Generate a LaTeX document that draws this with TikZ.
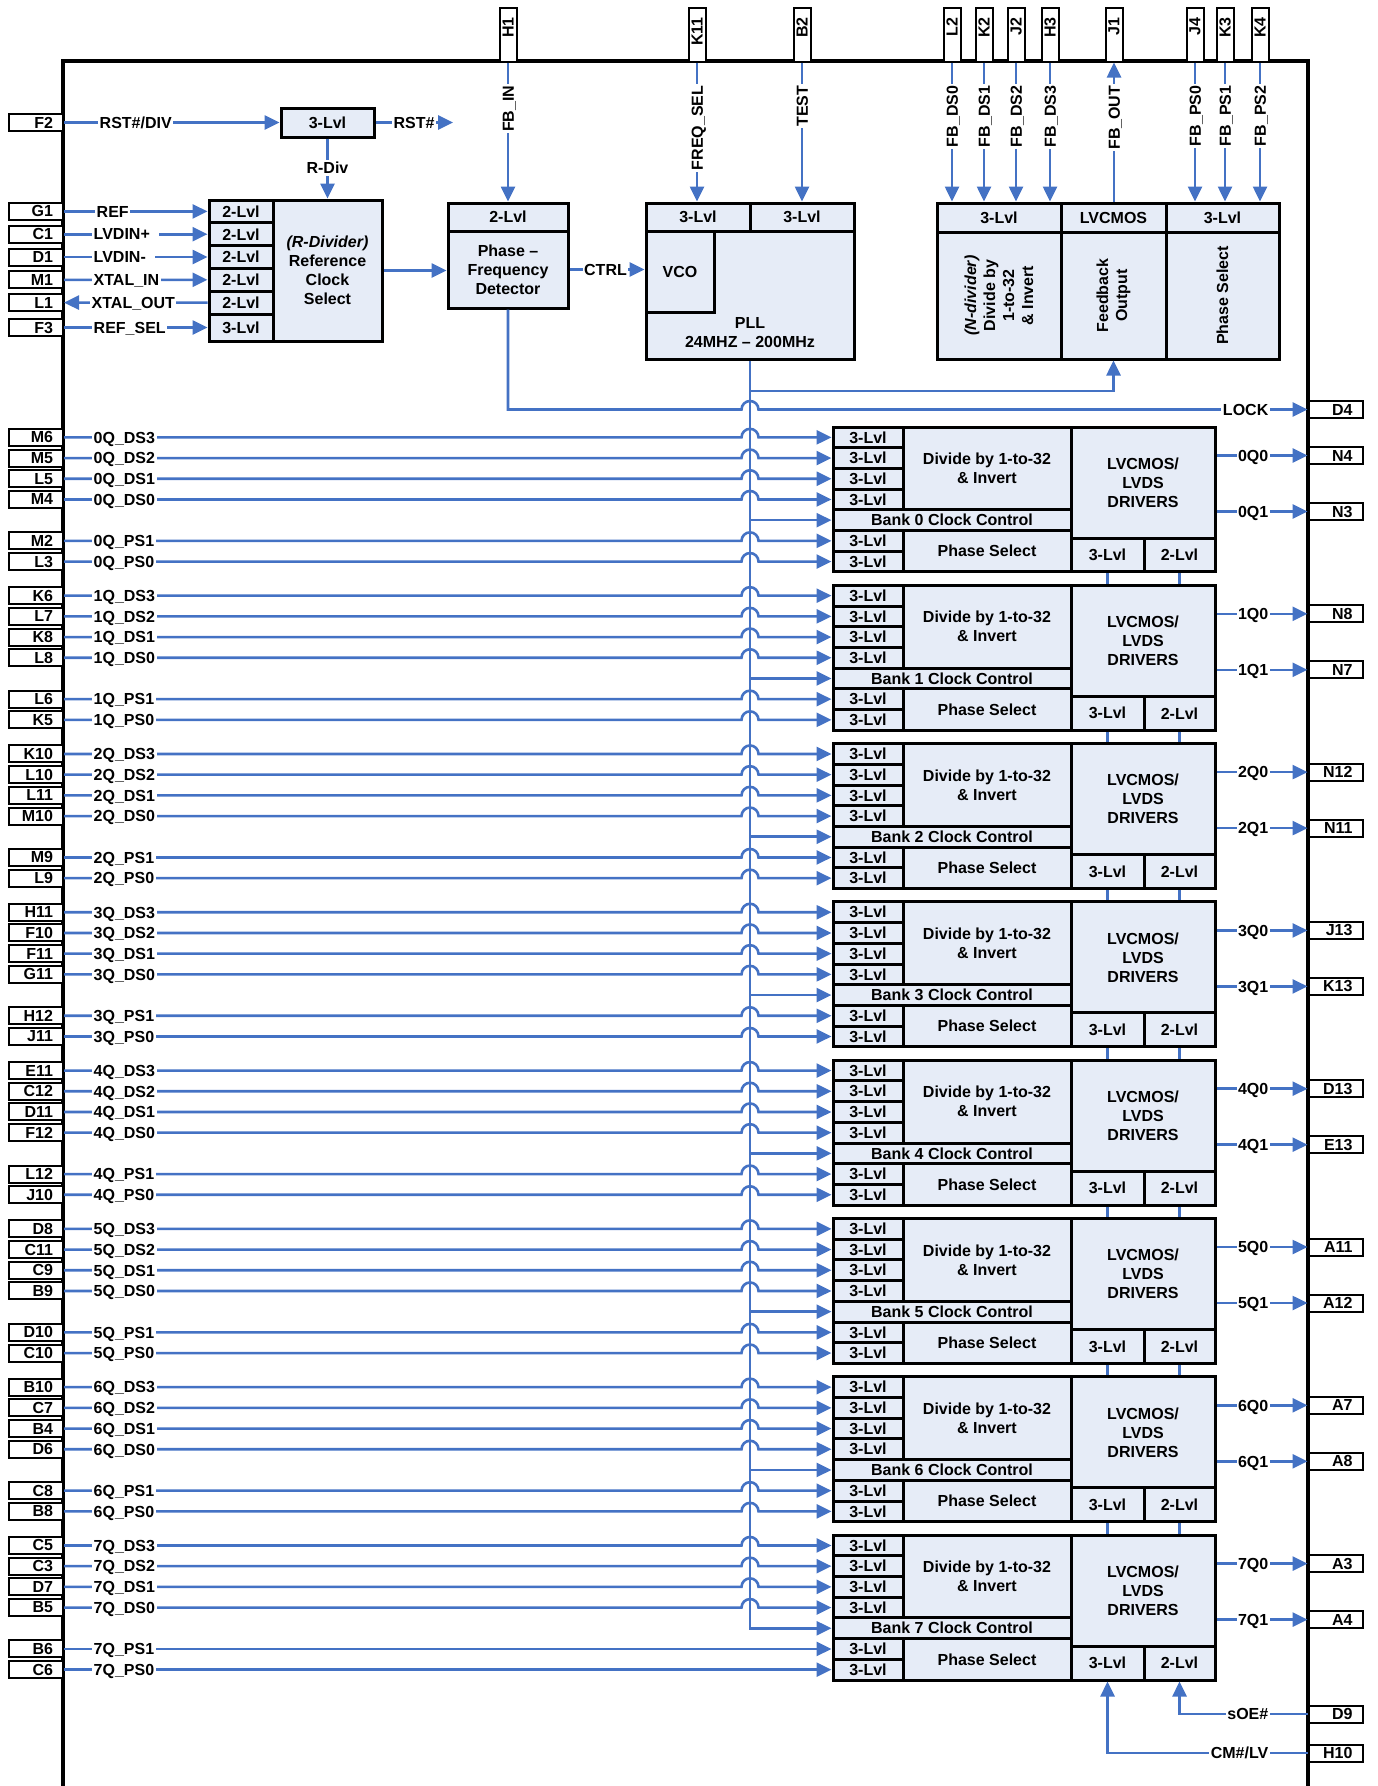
\documentclass[tikz,border=0pt]{standalone}
\usepackage{fontspec}
\setmainfont{Liberation Sans}
\usetikzlibrary{arrows.meta}
\definecolor{sigblue}{RGB}{68,114,196}
\definecolor{boxfill}{RGB}{230,236,247}
\tikzset{
  sig/.style={draw=sigblue,line width=2.6pt},
  arr/.style={-{Triangle[length=15pt,width=14pt]}},
  blk/.style={draw=black,line width=3pt,fill=boxfill,inner sep=0pt,align=center},
  pin/.style={draw=black,line width=2pt,fill=white,minimum width=54pt,minimum height=17pt,inner sep=0pt,text width=34pt,align=right},
  lbl/.style={fill=white,inner xsep=1.5pt,inner ysep=2pt,text height=11.5pt,text depth=0pt},
}
\newcommand\bx[7][]{\node[blk,minimum width={((#5)-(#3))*1pt},minimum height={((#6)-(#4))*1pt},#1] (#2) at ({((#3)+(#5))/2},{((#4)+(#6))/2}) {#7};}
\begin{document}
\begin{tikzpicture}[x=1pt,y=-1pt,font=\fontsize{16}{19}\selectfont\bfseries]
\useasboundingbox (0,0) rectangle (1377,1786);
% outer border
\draw[line width=3.4pt] (63,1786) -- (63,61) -- (1308,61) -- (1308,1786);

% ---------- reset / reference select ----------
\bx{rst}{281}{108}{374}{137}{3-Lvl}
\node[pin] (F2) at (36,122.5) {F2};
\draw[sig,arr] (F2.east) -- (rst.west);
\node[lbl,anchor=west] at (98,122.5) {RST\#/DIV};
\coordinate (rstout) at (453,122.5);
\draw[sig,arr] (rst.east) -- (rstout);
\node[lbl] at (414,122.5) {RST\#};

\foreach \i/\ya/\yb/\tx in {0/200/222.8/2-Lvl,1/222.8/245.6/2-Lvl,2/245.6/268.4/2-Lvl,3/268.4/291.2/2-Lvl,4/291.2/314/2-Lvl,5/314/341/3-Lvl}{
  \bx{rs\i}{209}{\ya}{273}{\yb}{\tx}
}
\bx{rsb}{273}{200}{382}{341}{\textit{(R-Divider)}\\Reference\\Clock\\Select}
\draw[sig,arr] (rst.south) -- (rsb.north);
\node[lbl] at (327.5,168) {R-Div};

\node[pin] (G1) at (36,211.4) {G1};
\node[pin] (C1) at (36,234.2) {C1};
\node[pin] (D1) at (36,257) {D1};
\node[pin] (M1) at (36,279.8) {M1};
\node[pin] (L1) at (36,302.6) {L1};
\node[pin] (F3) at (36,327.5) {F3};
\draw[sig,arr] (G1.east) -- (rs0.west);
\draw[sig,arr] (C1.east) -- (rs1.west);
\draw[sig,arr] (D1.east) -- (rs2.west);
\draw[sig,arr] (M1.east) -- (rs3.west);
\draw[sig,arr] (rs4.west) -- (L1.east);
\draw[sig,arr] (F3.east) -- (rs5.west);
\node[lbl,anchor=west] at (95,211.4) {REF};
\node[lbl,anchor=west] at (92,234.2) {LVDIN+\kern8pt};
\node[lbl,anchor=west] at (92,257) {LVDIN-\kern8pt};
\node[lbl,anchor=west] at (92,279.8) {XTAL\_IN};
\node[lbl,anchor=west] at (90,302.6) {XTAL\_OUT};
\node[lbl,anchor=west] at (92,327.5) {REF\_SEL};

% ---------- PFD ----------
\bx{pfdh}{448}{203}{568}{231}{2-Lvl}
\bx{pfdb}{448}{231}{568}{308}{Phase --\\Frequency\\Detector}
\draw[sig,arr] (rsb.east) -- (pfdb.west |- rsb.east);
\node[pin,rotate=90] (H1) at (508,34.5) {H1};
\draw[sig,arr] (H1.west) -- (pfdh.north);
\node[lbl,rotate=90,anchor=east] at (508,84) {FB\_IN};

% ---------- PLL ----------
\bx{pll}{646}{203}{854}{359}{}
\bx{pllh1}{646}{203}{750}{231}{3-Lvl}
\bx{pllh2}{750}{203}{854}{231}{3-Lvl}
\bx{vco}{646}{231}{714}{312}{VCO}
\node[align=center] (plltxt) at (750,333) {PLL\\24MHZ -- 200MHz};
\node[pin,rotate=90] (K11) at (697,34.5) {K11};
\node[pin,rotate=90] (B2) at (802,34.5) {B2};
\draw[sig,arr] (K11.west) -- (K11.west |- pllh1.north);
\draw[sig,arr] (B2.west) -- (B2.west |- pllh2.north);
\node[lbl,rotate=90,anchor=east] at (697,84) {FREQ\_SEL};
\node[lbl,rotate=90,anchor=east] at (802,84) {TEST};
\draw[sig,arr] (pfdb.east) -- (vco.west |- pfdb.east);
\node[lbl] at (605.5,269.5) {CTRL};

% ---------- feedback block ----------
\bx{fbh1}{937}{203}{1061}{232}{3-Lvl}
\bx{fbh2}{1061}{203}{1166}{232}{LVCMOS}
\bx{fbh3}{1166}{203}{1279}{232}{3-Lvl}
\bx{fbb1}{937}{232}{1061}{359}{}
\bx{fbb2}{1061}{232}{1166}{359}{}
\bx{fbb3}{1166}{232}{1279}{359}{}
\node[rotate=90,align=center] (fbt1) at (fbb1) {\textit{(N-divider)}\\Divide by\\1-to-32\\\& Invert};
\node[rotate=90,align=center] (fbt2) at (fbb2) {Feedback\\Output};
\node[rotate=90] (fbt3) at (fbb3) {Phase Select};
\foreach \n/\x/\s/\h in {L2/952/FB\_DS0/fbh1,K2/984/FB\_DS1/fbh1,J2/1016/FB\_DS2/fbh1,H3/1050/FB\_DS3/fbh1,J4/1195/FB\_PS0/fbh3,K3/1225/FB\_PS1/fbh3,K4/1260/FB\_PS2/fbh3}{
  \node[pin,rotate=90] (\n) at (\x,34.5) {\n};
  \draw[sig,arr] (\n.west) -- (\n.west |- \h.north);
  \node[lbl,rotate=90,anchor=east] at (\x,84) {\s};
}
\node[pin,rotate=90] (J1) at (1114,34.5) {J1};
\draw[sig,arr] (J1.west |- fbh2.north) -- (J1.west);
\node[lbl,rotate=90,anchor=east] at (1114,84) {FB\_OUT};

% ---------- banks ----------
\foreach \bk/\pa/\pb/\pc/\pd/\pe/\pf/\qa/\qb in {0/M6/M5/L5/M4/M2/L3/N4/N3,1/K6/L7/K8/L8/L6/K5/N8/N7,2/K10/L10/L11/M10/M9/L9/N12/N11,3/H11/F10/F11/G11/H12/J11/J13/K13,4/E11/C12/D11/F12/L12/J10/D13/E13,5/D8/C11/C9/B9/D10/C10/A11/A12,6/B10/C7/B4/D6/C8/B8/A7/A8,7/C5/C3/D7/B5/B6/C6/A3/A4}{
  \pgfmathsetmacro\bT{427+158.3*\bk}
  \foreach \r in {0,1,2,3,5,6}{
    \bx{b\bk-r\r}{833}{\bT+20.7*\r}{903}{\bT+20.7*(\r+1)}{3-Lvl}
  }
  \bx{b\bk-div}{903}{\bT}{1071}{\bT+82.8}{Divide by 1-to-32\\\& Invert}
  \bx{b\bk-r4}{833}{\bT+82.8}{1071}{\bT+103.5}{Bank \bk\ Clock Control}
  \bx{b\bk-ps}{903}{\bT+103.5}{1071}{\bT+144.9}{Phase Select}
  \bx{b\bk-drv}{1071}{\bT}{1215}{\bT+111}{LVCMOS/\\LVDS\\DRIVERS}
  \bx{b\bk-cm}{1071}{\bT+111}{1144}{\bT+144.9}{3-Lvl}
  \bx{b\bk-oe}{1144}{\bT+111}{1215}{\bT+144.9}{2-Lvl}
  \foreach \r/\pn/\sn in {0/\pa/DS3,1/\pb/DS2,2/\pc/DS1,3/\pd/DS0,5/\pe/PS1,6/\pf/PS0}{
    \pgfmathsetmacro\yy{\bT+20.7*(\r+0.5)}
    \node[pin] (p\bk-\r) at (36,\yy) {\pn};
    \ifnum\bk=7
      \ifnum\r>4
        \draw[sig,arr] (p\bk-\r.east) -- (b\bk-r\r.west);
      \else
        \draw[sig,arr] (p\bk-\r.east) -- (741.5,\yy) arc[start angle=180,end angle=0,radius=8.5pt] -- (b\bk-r\r.west);
      \fi
    \else
      \draw[sig,arr] (p\bk-\r.east) -- (741.5,\yy) arc[start angle=180,end angle=0,radius=8.5pt] -- (b\bk-r\r.west);
    \fi
    \node[lbl,anchor=west] at (92,\yy) {\bk Q\_\sn};
  }
  \pgfmathsetmacro\ya{\bT+28.5}
  \pgfmathsetmacro\yb{\bT+84.5}
  \node[pin] (o\bk-0) at (1335.5,\ya) {\qa};
  \node[pin] (o\bk-1) at (1335.5,\yb) {\qb};
  \draw[sig,arr] (b\bk-drv.east |- o\bk-0.west) -- (o\bk-0.west);
  \draw[sig,arr] (b\bk-drv.east |- o\bk-1.west) -- (o\bk-1.west);
  \node[lbl,anchor=east] at (1270,\ya) {\bk Q0};
  \node[lbl,anchor=east] at (1270,\yb) {\bk Q1};
}
% chain between banks
\foreach \bk/\bn in {0/1,1/2,2/3,3/4,4/5,5/6,6/7}{
  \draw[sig] (b\bk-cm.south) -- (b\bk-cm.south |- b\bn-drv.north);
  \draw[sig] (b\bk-oe.south) -- (b\bk-oe.south |- b\bn-drv.north);
}

% ---------- clock bus ----------
\draw[sig,arr] (pll.south) -- (pll.south |- b7-r4.west) -- (b7-r4.west);
\foreach \bk in {0,...,6}{
  \draw[sig,arr] (pll.south |- b\bk-r4.west) -- (b\bk-r4.west);
}
\coordinate (fbj) at (750,391);
\draw[sig,arr] (fbj) -- (fbb2.south |- fbj) -- (fbb2.south);

% ---------- LOCK ----------
\node[pin] (D4) at (1335.5,409.5) {D4};
\draw[sig,arr] (pfdb.south) -- (pfdb.south |- D4.west) -- (741.5,409.5) arc[start angle=180,end angle=0,radius=8.5pt] -- (D4.west);
\node[lbl,anchor=east] at (1270,409.5) {LOCK};

% ---------- sOE# / CM#/LV ----------
\node[pin] (D9) at (1335.5,1714) {D9};
\node[pin] (H10) at (1335.5,1753) {H10};
\draw[sig,arr] (D9.west) -- (b7-oe.south |- D9.west) -- (b7-oe.south);
\draw[sig,arr] (H10.west) -- (b7-cm.south |- H10.west) -- (b7-cm.south);
\node[lbl,anchor=east] at (1270,1714) {sOE\#};
\node[lbl,anchor=east] at (1270,1753) {CM\#/LV};
\end{tikzpicture}
\end{document}
